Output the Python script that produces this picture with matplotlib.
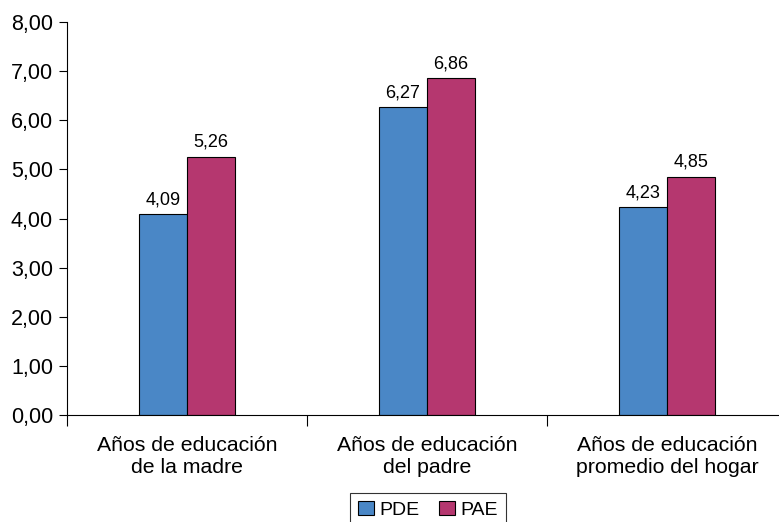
import numpy as np
import matplotlib.pyplot as plt

plt.rcParams['font.family'] = ['Liberation Sans', 'DejaVu Sans']

# === Data ===
categorias = ["Años de educación\nde la madre",
              "Años de educación\ndel padre",
              "Años de educación\npromedio del hogar"]
pde = [4.09, 6.27, 4.23]
pae = [5.26, 6.86, 4.85]
series = ["PDE", "PAE"]
colores = ["#4A87C6", "#B5376F"]

# === Figure ===
fig = plt.figure(figsize=(7.79, 5.22), dpi=100)
ax = fig.add_axes([67 / 779, 1 - 415 / 522, 720 / 779, (415 - 22) / 522])

x = np.arange(len(categorias))
w = 0.2
b1 = ax.bar(x - w / 2, pde, w, color=colores[0], edgecolor="black", linewidth=0.8, label=series[0])
b2 = ax.bar(x + w / 2, pae, w, color=colores[1], edgecolor="black", linewidth=0.8, label=series[1])

for bars in (b1, b2):
    for rect in bars:
        h = rect.get_height()
        ax.text(rect.get_x() + rect.get_width() / 2, h + 0.12, f"{h:.2f}".replace(".", ","),
                ha="center", va="bottom", fontsize=13)

ax.set_ylim(0, 8)
ax.set_xlim(-0.5, 2.5)
ax.set_yticks(np.arange(0, 9, 1))
ax.set_yticklabels([f"{v:.2f}".replace(".", ",") for v in range(9)], fontsize=15.5)
ax.set_xticks(x)
ax.set_xticklabels(categorias, fontsize=15.3, linespacing=1.2)
ax.tick_params(axis="x", length=0, pad=15)
ax.set_xticks(np.arange(-0.5, 3, 1), minor=True)
ax.tick_params(axis="x", which="minor", length=8, direction="out", width=0.8)
ax.tick_params(axis="y", length=6, width=0.8, pad=4)

for s in ("top", "right"):
    ax.spines[s].set_visible(False)
for s in ("left", "bottom"):
    ax.spines[s].set_linewidth(0.8)

leg = fig.legend(handles=[b1, b2], labels=series, loc="upper center",
                 bbox_to_anchor=(428 / 779, 1 - 487 / 522), ncol=2, fontsize=14,
                 frameon=True, fancybox=False, edgecolor="black",
                 handlelength=0.8, handleheight=0.8, handletextpad=0.3,
                 columnspacing=1.0, borderpad=0.4, borderaxespad=0.3)
leg.get_frame().set_linewidth(0.8)

fig.savefig("out.png", dpi=100)
